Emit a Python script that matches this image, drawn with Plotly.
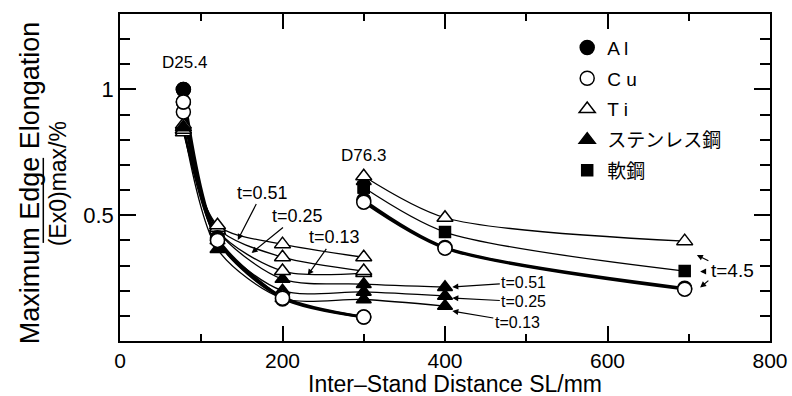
import plotly.graph_objects as go

# ---------------- data ----------------
# D25.4 group
al_d25_x = [78, 120, 200]
al_d25_y = [1.00, 0.41, 0.167]
cu_d25_x = [78, 120, 200, 300]
cu_d25_y = [0.95, 0.40, 0.17, 0.095]
cu2_d25_x = [78, 120, 200, 300]
cu2_d25_y = [0.91, 0.40, 0.175, 0.095]
ti051_x = [78, 120, 200, 300]
ti051_y = [0.84, 0.46, 0.385, 0.333]
ti025_x = [78, 120, 200, 300]
ti025_y = [0.86, 0.45, 0.333, 0.278]
ti013_x = [78, 120, 200, 300]
ti013_y = [0.83, 0.44, 0.278, 0.27]
sus051_x = [78, 120, 200, 300, 400]
sus051_y = [0.85, 0.44, 0.246, 0.226, 0.214]
sus025_x = [78, 120, 200, 300, 400]
sus025_y = [0.85, 0.40, 0.20, 0.195, 0.179]
sus013_x = [78, 120, 200, 300, 400]
sus013_y = [0.85, 0.365, 0.17, 0.165, 0.139]

# D76.3 group (t=4.5)
d76_x = [300, 400, 695]
ti45_y = [0.655, 0.49, 0.397]
mild45_y = [0.61, 0.433, 0.278]
cu45_y = [0.552, 0.369, 0.206]
al45_y = [0.56, 0.372, 0.21]
sus45_x = [300]
sus45_y = [0.635]

x_ticks = [0, 200, 400, 600, 800]
y_ticks = [0.5, 1]
y_ticktext = ["0.5", "1"]

legend_names = ["A l", "C u", "T i", "ステンレス鋼", "軟鋼"]

FONT = "Liberation Sans, Arial, Noto Sans CJK JP"

fig = go.Figure()

# ---- lines ----
thick = [(al_d25_x, al_d25_y), (cu_d25_x, cu_d25_y), (cu2_d25_x, cu2_d25_y),
         (d76_x, al45_y), (d76_x, cu45_y)]
thin = [(ti051_x, ti051_y), (ti025_x, ti025_y), (ti013_x, ti013_y),
        (sus051_x, sus051_y), (sus025_x, sus025_y), (sus013_x, sus013_y),
        (d76_x, ti45_y), (d76_x, mild45_y)]
for xs, ys in thin:
    fig.add_trace(go.Scatter(x=xs, y=ys, mode="lines", showlegend=False,
                             line=dict(color="black", width=1.3, shape="spline", smoothing=0.8),
                             hoverinfo="skip"))
for xs, ys in thick:
    fig.add_trace(go.Scatter(x=xs, y=ys, mode="lines", showlegend=False,
                             line=dict(color="black", width=2.6, shape="spline", smoothing=0.8),
                             hoverinfo="skip"))

# ---- markers ----
def mk(xs, ys, symbol, fill, size, name, group):
    fig.add_trace(go.Scatter(x=xs, y=ys, mode="markers", name=name, showlegend=False,
                             legendgroup=group,
                             marker=dict(symbol=symbol, color=fill, size=size,
                                         line=dict(color="black", width=1.5))))

# stainless (filled triangles)
mk(sus013_x, sus013_y, "triangle-up", "black", 13, legend_names[3], "sus")
mk(sus025_x, sus025_y, "triangle-up", "black", 13, legend_names[3], "sus")
mk(sus051_x, sus051_y, "triangle-up", "black", 13, legend_names[3], "sus")
mk(sus45_x, sus45_y, "triangle-up", "black", 13, legend_names[3], "sus")
# Ti
mk(ti013_x, ti013_y, "triangle-up", "white", 14, legend_names[2], "ti")
mk(ti025_x, ti025_y, "triangle-up", "white", 14, legend_names[2], "ti")
mk(ti051_x, ti051_y, "triangle-up", "white", 14, legend_names[2], "ti")
mk(d76_x, ti45_y, "triangle-up", "white", 14, legend_names[2], "ti")
# Al
mk(al_d25_x, al_d25_y, "circle", "black", 14, legend_names[0], "al")
mk(d76_x, al45_y, "circle", "black", 14, legend_names[0], "al")
# mild steel
mk(d76_x, mild45_y, "square", "black", 11, legend_names[4], "mild")
# Cu
mk(cu2_d25_x, cu2_d25_y, "circle", "white", 14, legend_names[1], "cu")
mk(cu_d25_x, cu_d25_y, "circle", "white", 14, legend_names[1], "cu")
mk(d76_x, cu45_y, "circle", "white", 14, legend_names[1], "cu")

# legend entries in the desired order
leg = [(al_d25_x, al_d25_y, "circle", "black", 14, "al"),
       (cu_d25_x, cu_d25_y, "circle", "white", 14, "cu"),
       (ti051_x, ti051_y, "triangle-up", "white", 14, "ti"),
       (sus051_x, sus051_y, "triangle-up", "black", 14, "sus"),
       (d76_x, mild45_y, "square", "black", 11, "mild")]
for i, (xs, ys, sym, fill, size, grp) in enumerate(leg):
    fig.add_trace(go.Scatter(x=xs[:1], y=ys[:1], mode="markers", name=legend_names[i],
                             showlegend=True, legendgroup=grp, legendrank=i + 1,
                             marker=dict(symbol=sym, color=fill, size=size,
                                         line=dict(color="black", width=1.5))))

# ---- annotations ----
ann = []
def txt(x, y, s, size=19):
    ann.append(dict(x=x, y=y, text=s, showarrow=False, font=dict(size=size, family=FONT, color="black")))

def arrow(tx, ty, hx, hy, s="", size=19):
    ann.append(dict(x=hx, y=hy, ax=tx, ay=ty, axref="x", ayref="y", text=s, showarrow=True,
                    arrowhead=2, arrowsize=1.0, arrowwidth=1.2, arrowcolor="black",
                    font=dict(size=size, family=FONT, color="black")))

txt(79, 1.107, "D25.4", 17)
txt(300, 0.738, "D76.3", 17)
arrow(175, 0.590, 145, 0.402, "t=0.51", 18)
arrow(218, 0.497, 162, 0.350, "t=0.25", 18)
arrow(264, 0.412, 231, 0.262, "t=0.13", 18)
arrow(497, 0.233, 409, 0.215, "t=0.51", 16)
arrow(497, 0.156, 409, 0.171, "t=0.25", 16)
arrow(489, 0.0755, 409, 0.119, "t=0.13", 16)
txt(754, 0.280, "t=4.5", 19)
arrow(726, 0.316, 710, 0.342)
arrow(720, 0.276, 714, 0.276)
arrow(726, 0.245, 714, 0.213)

# x-axis title
ann.append(dict(xref="paper", yref="paper", x=0.515, y=-0.131, xanchor="center", yanchor="middle",
                text="Inter–Stand Distance SL/mm", showarrow=False,
                font=dict(size=23, family=FONT, color="black")))
# y-axis title (fraction)
ann.append(dict(xref="paper", yref="paper", x=-0.138, y=0.483, xanchor="center", yanchor="middle",
                text="Maximum Edge Elongation",
                textangle=-90, showarrow=False, font=dict(size=27, family=FONT, color="black")))
ann.append(dict(xref="paper", yref="paper", x=-0.095, y=0.48, xanchor="center", yanchor="middle",
                text="(Ex0)max/%",
                textangle=-90, showarrow=False, font=dict(size=23, family=FONT, color="black")))

fig.update_layout(
    annotations=ann,
    shapes=[dict(type="line", xref="paper", yref="paper", x0=-0.118, x1=-0.118,
                 y0=0.300, y1=0.560, line=dict(color="black", width=1.5))],
    width=792, height=396,
    margin=dict(l=120, r=22, t=14, b=55),
    paper_bgcolor="white", plot_bgcolor="white",
    font=dict(family=FONT, color="black"),
    legend=dict(x=0.688, y=0.955, xanchor="left", yanchor="top",
                font=dict(size=19, family=FONT, color="black"),
                tracegroupgap=3, bgcolor="rgba(0,0,0,0)", itemwidth=30),
    xaxis=dict(range=[0, 800], tickmode="array", tickvals=x_ticks, automargin=False,
               ticks="inside", ticklen=15, tickwidth=1.5, tickcolor="black",
               showline=True, linecolor="black", linewidth=1.5, mirror="ticks",
               showgrid=False, zeroline=False, ticklabelstandoff=0,
               tickfont=dict(size=21, family=FONT, color="black"),
               minor=dict(tickmode="linear", tick0=0, dtick=100, ticks="inside", ticklen=7,
                          tickcolor="black", tickwidth=1.5, showgrid=False)),
    yaxis=dict(range=[0, 1.3], tickmode="array", tickvals=y_ticks, ticktext=y_ticktext,
               automargin=False,
               ticks="inside", ticklen=16, tickwidth=1.5, tickcolor="black",
               showline=True, linecolor="black", linewidth=1.5, mirror="ticks",
               showgrid=False, zeroline=False,
               tickfont=dict(size=22, family=FONT, color="black"),
               minor=dict(tickmode="linear", tick0=0, dtick=0.1, ticks="inside", ticklen=10,
                          tickcolor="black", tickwidth=1.5, showgrid=False)),
)

fig.write_html("out.html")
